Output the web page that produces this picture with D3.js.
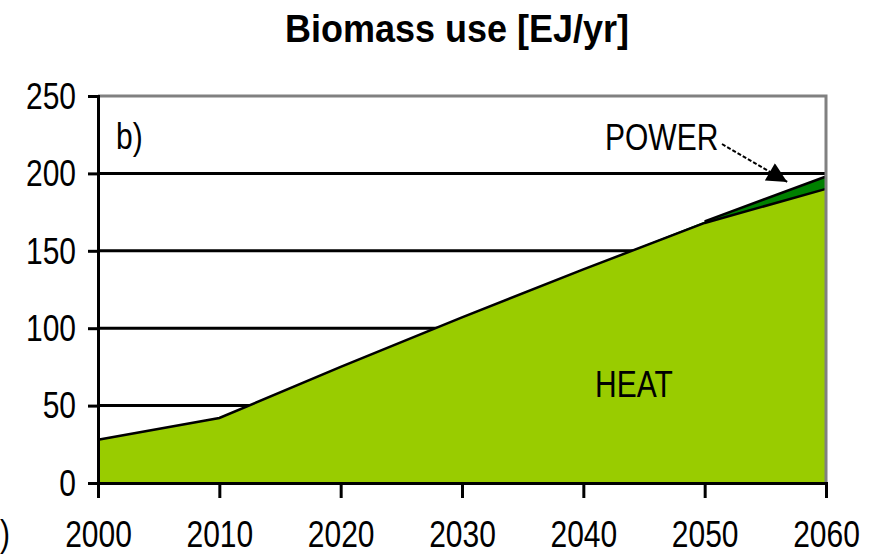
<!DOCTYPE html>
<html>
<head>
<meta charset="utf-8">
<script src="https://cdn.jsdelivr.net/npm/d3@7"></script>
<style>
  body { margin: 0; background: #fff; }
  text { font-family: Arial, 'Liberation Sans', sans-serif; fill: #000; }
</style>
</head>
<body>
<svg></svg>
<script>
const years = [2000, 2010, 2020, 2030, 2040, 2050, 2060]
const heat = [28, 42, 75, 107, 138, 168, 190]
const power = [0, 0, 0, 0, 0, 1, 8]
const yTicks = [0, 50, 100, 150, 200, 250]
const xTicks = [2000, 2010, 2020, 2030, 2040, 2050, 2060]

const width = 873,
  height = 556
const margin = { top: 96, right: 47, bottom: 73, left: 98 }
const sy = 1.2 // labels in the source are stretched vertically

const svg = d3.select('svg')
  .attr('width', width)
  .attr('height', height)

const x = d3.scaleLinear()
  .domain([2000, 2060])
  .range([margin.left, width - margin.right])

const y = d3.scaleLinear()
  .domain([0, 250])
  .range([height - margin.bottom, margin.top])

const rows = years.map((yr, i) => ({ year: yr, heat: heat[i], power: power[i] }))
const stacked = d3.stack().keys(['heat', 'power'])(rows)
const colors = { heat: '#99cc00', power: '#008000' }

// gridlines (behind the areas)
svg.selectAll('.grid')
  .data(yTicks.filter(t => t > 0 && t < 250))
  .enter().append('line')
  .attr('class', 'grid')
  .attr('x1', margin.left)
  .attr('x2', width - margin.right)
  .attr('y1', d => y(d))
  .attr('y2', d => y(d))
  .attr('stroke', '#000')
  .attr('stroke-width', 3)

// areas
const area = d3.area()
  .x(d => x(d.data.year))
  .y0(d => y(d[0]))
  .y1(d => y(d[1]))

svg.selectAll('.layer')
  .data(stacked)
  .enter().append('path')
  .attr('class', 'layer')
  .attr('fill', d => colors[d.key])
  .attr('d', area)

// outlines on top of each layer
const topLine = d3.line()
  .x(d => x(d.data.year))
  .y(d => y(d[1]))

svg.selectAll('.edge')
  .data(stacked)
  .enter().append('path')
  .attr('class', 'edge')
  .attr('fill', 'none')
  .attr('stroke', '#000')
  .attr('stroke-width', 2.5)
  .attr('d', d => topLine(d.key === 'power' ? d.filter(p => p.data.year >= 2050) : d))

// plot border (top + right)
svg.append('path')
  .attr('fill', 'none')
  .attr('stroke', '#808080')
  .attr('stroke-width', 3)
  .attr('d', `M${margin.left},${y(250)}H${x(2060)}V${y(0)}`)

// y axis
const yAxis = svg.append('g')
  .attr('transform', `translate(${margin.left},0)`)
  .call(d3.axisLeft(y).tickValues(yTicks).tickSize(10).tickPadding(12))
yAxis.select('.domain').attr('stroke-width', 3)
yAxis.selectAll('.tick line').attr('stroke-width', 3)
yAxis.selectAll('.tick text')
  .attr('font-size', 30)
  .attr('dy', '0.34em')
  .attr('transform', `scale(1,${sy})`)

// x axis
const xAxis = svg.append('g')
  .attr('transform', `translate(0,${y(0)})`)
  .call(d3.axisBottom(x).tickValues(xTicks).tickFormat(d3.format('d')).tickSize(15))
xAxis.select('.domain').attr('stroke-width', 3)
xAxis.selectAll('.tick line').attr('stroke-width', 3)
xAxis.selectAll('.tick text')
  .attr('font-size', 30)
  .attr('y', 64 / sy)
  .attr('dy', 0)
  .attr('transform', `scale(1,${sy})`)

// title
svg.append('text')
  .attr('x', 457)
  .attr('y', 42 / 1.1)
  .attr('transform', 'scale(1,1.1)')
  .attr('text-anchor', 'middle')
  .attr('font-size', 36)
  .attr('font-weight', 'bold')
  .text('Biomass use  [EJ/yr]')

// labels
function label(txt, px, py, anchor) {
  svg.append('text')
    .attr('x', px)
    .attr('y', py / sy)
    .attr('transform', `scale(1,${sy})`)
    .attr('text-anchor', anchor || 'start')
    .attr('font-size', 30)
    .text(txt)
}
label('b)', 116, 149)
label('HEAT', 595, 397)
label('POWER', 605, 150)
label(')', 0, 546)

// arrow to the POWER band
svg.append('defs').append('marker')
  .attr('id', 'head')
  .attr('viewBox', '0 0 10 10')
  .attr('refX', 10)
  .attr('refY', 5)
  .attr('markerWidth', 24)
  .attr('markerHeight', 20)
  .attr('markerUnits', 'userSpaceOnUse')
  .attr('orient', 'auto')
  .append('path')
  .attr('d', 'M0,0L10,5L0,10Z')
  .attr('fill', '#000')

svg.append('line')
  .attr('x1', 722)
  .attr('y1', 144)
  .attr('x2', x(2056.8))
  .attr('y2', y(194.5))
  .attr('stroke', '#000')
  .attr('stroke-width', 2)
  .attr('stroke-dasharray', '4,2')
  .attr('marker-end', 'url(#head)')
</script>
</body>
</html>
